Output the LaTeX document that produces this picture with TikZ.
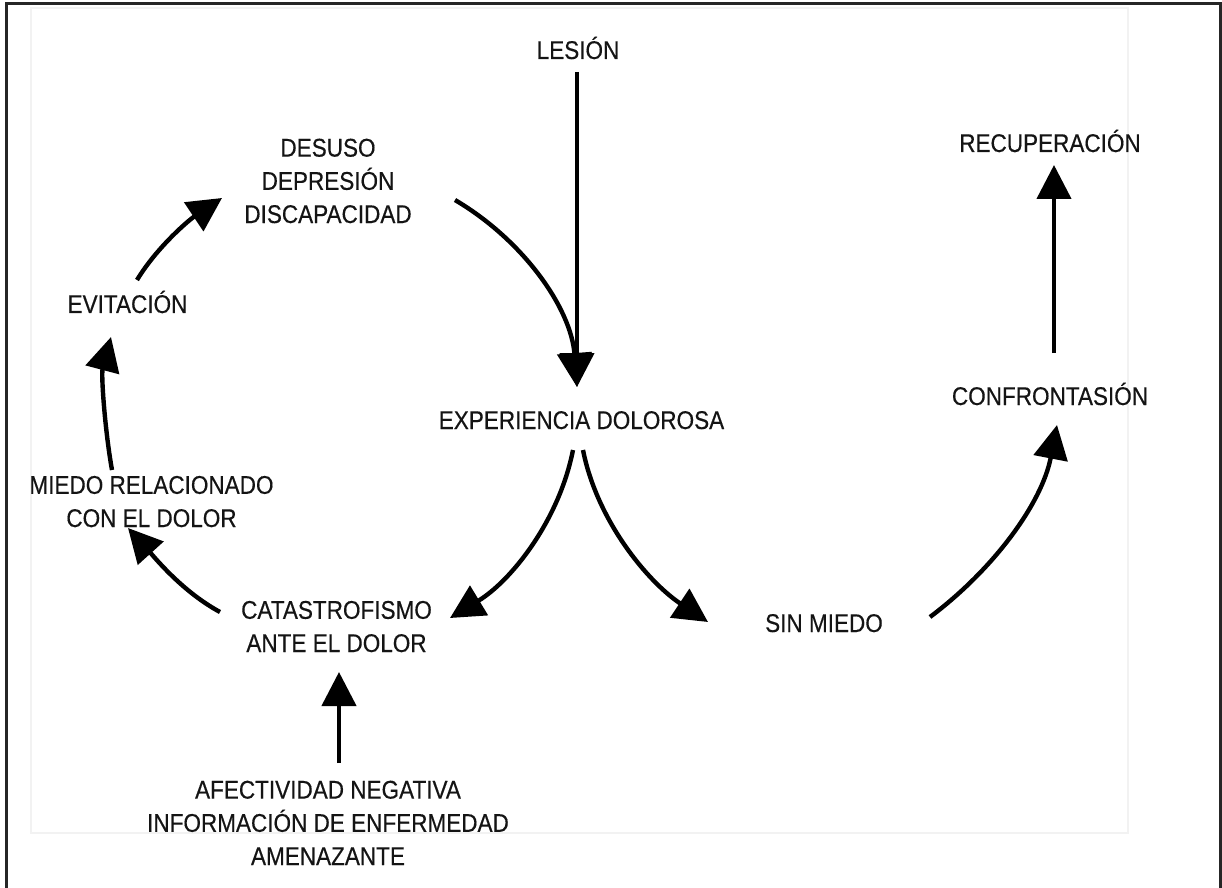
\documentclass[tikz,border=0pt]{standalone}
\usepackage{fontspec}
\setmainfont{Liberation Sans}[FakeStretch=0.88,FakeBold=0.4]
\usetikzlibrary{arrows.meta,calc}
\begin{document}
\begin{tikzpicture}[x=0.5pt,y=-0.5pt,
  lbl/.style={font=\fontsize{12.8}{16.6}\selectfont, align=center, anchor=base,
              inner sep=0pt, text=black!92},
  flow/.style={line width=2.2pt, draw=black, -{Triangle[length=17pt,width=17pt]}},
]
\useasboundingbox (0,0) rectangle (1222,888);
\begin{scope}
  \clip (0,0) rectangle (1222,888);
  % faint inner panel and outer frame
  \draw[black!5, line width=0.8pt] (31,8) rectangle (1128,833);
  \draw[black!85, line width=1.5pt] (6,895) -- (6,4) -- (1220.5,4) -- (1220.5,895);
\end{scope}

% labels (base anchor = baseline of the last line)
\node[lbl] (lesion)   at (578,59)    {LESIÓN};
\node[lbl] (desuso)   at (328,223)   {DESUSO\\DEPRESIÓN\\DISCAPACIDAD};
\node[lbl] (recup)    at (1050,152)  {RECUPERACIÓN};
\node[lbl] (evit)     at (127.5,313) {EVITACIÓN};
\node[lbl] (confr)    at (1050,405)  {CONFRONTASIÓN};
\node[lbl] (exper)    at (581.5,429) {EXPERIENCIA DOLOROSA};
\node[lbl] (miedo)    at (151.5,527) {MIEDO RELACIONADO\\CON EL DOLOR};
\node[lbl] (catas)    at (336.5,652) {CATASTROFISMO\\ANTE EL DOLOR};
\node[lbl] (sinmiedo) at (824,632)   {SIN MIEDO};
\node[lbl] (afect)    at (328,865)   {AFECTIVIDAD NEGATIVA\\INFORMACIÓN DE ENFERMEDAD\\AMENAZANTE};

% connectors
\coordinate (exptop) at ($(exper.base)+(-4.5,-42)$);
\draw[flow] ($(lesion.base)+(-1,13)$) -- (exptop);
\draw[flow] ($(desuso.base)+(127,-23)$) .. controls +(68,40) and +(-6,-79) .. (exptop);
\draw[flow] ($(exper.base)+(-8.5,21)$) .. controls +(-14,71) and +(61,-37) .. ($(catas.base)+(113.5,-34)$);
\draw[flow] ($(exper.base)+(1.5,21)$) .. controls +(14,71) and +(-60,-40) .. ($(sinmiedo.base)+(-116,-10)$);
\draw[flow] ($(catas.base)+(-116.5,-40)$) .. controls +(-37,-20) and +(28,31) .. ($(miedo.base)+(-23.5,1)$);
\draw[flow] ($(miedo.base)+(-39.5,-57)$) .. controls +(-7,-39) and +(-10,38) .. ($(evit.base)+(-16.5,24)$);
\draw[flow] ($(evit.base)+(9.5,-33)$) .. controls +(20,-33) and +(-33,22) .. ($(desuso.base)+(-106,-25)$);
\draw[flow] ($(sinmiedo.base)+(106,-15)$) .. controls +(64,-48) and +(-15,78) .. ($(confr.base)+(7,20)$);
\draw[flow] ($(confr.base)+(4,-52)$) -- ($(recup.base)+(4,13)$);
\draw[flow] ($(afect.base)+(11,-102)$) -- ($(catas.base)+(2.5,20)$);
\end{tikzpicture}
\end{document}
